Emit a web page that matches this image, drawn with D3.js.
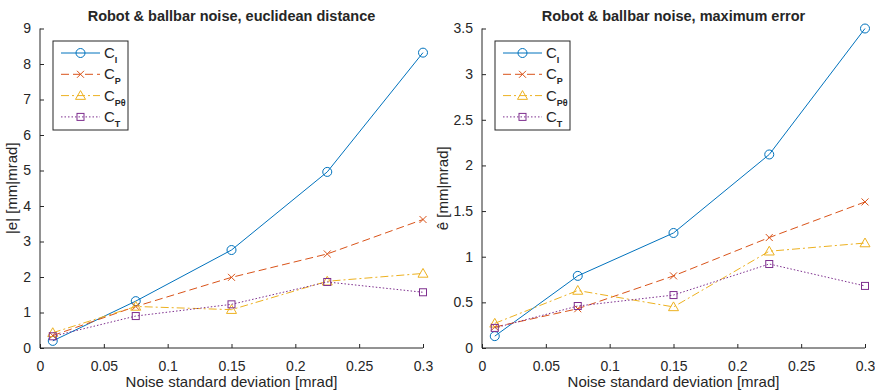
<!DOCTYPE html>
<html>
<head>
<meta charset="utf-8">
<script src="https://cdn.jsdelivr.net/npm/d3@7"></script>
<style>
  body { margin: 0; background: #fff; }
  text { font-family: "Liberation Sans", Arial, sans-serif; fill: #262626; }
</style>
</head>
<body>
<div id="chart"></div>
<script>
const width = 875, height = 390;

const noise = [0.01, 0.075, 0.15, 0.225, 0.3];

// euclidean distance |e|
const distCI  = [0.2, 1.32, 2.76, 4.96, 8.32];
const distCP  = [0.35, 1.17, 1.99, 2.65, 3.62];
const distCPt = [0.43, 1.17, 1.08, 1.88, 2.1];
const distCT  = [0.33, 0.9, 1.23, 1.86, 1.57];

// maximum error ê
const maxCI  = [0.13, 0.79, 1.26, 2.12, 3.5];
const maxCP  = [0.23, 0.43, 0.79, 1.21, 1.6];
const maxCPt = [0.27, 0.63, 0.45, 1.06, 1.15];
const maxCT  = [0.22, 0.46, 0.58, 0.92, 0.68];

const xTicks = [0, 0.05, 0.1, 0.15, 0.2, 0.25, 0.3];
const yTicksLeft = [0, 1, 2, 3, 4, 5, 6, 7, 8, 9];
const yTicksRight = [0, 0.5, 1, 1.5, 2, 2.5, 3, 3.5];

const seriesStyle = [
    {name: "C", sub: "I", color: "#0072BD", dash: null, marker: "circle"},
    {name: "C", sub: "P", color: "#D95319", dash: "8,4", marker: "x"},
    {name: "C", sub: "Pθ", color: "#EDB120", dash: "8,3,2,3", marker: "triangle"},
    {name: "C", sub: "T", color: "#7E2F8E", dash: "1.5,2", marker: "square"}
];

let svg = d3.select("#chart").append("svg")
    .attr("width", width)
    .attr("height", height);

function drawMarker(g, type, x, y, color) {
    if (type === "circle") {
        g.append("circle").attr("cx", x).attr("cy", y).attr("r", 4.5)
            .attr("fill", "none").attr("stroke", color).attr("stroke-width", 1);
    } else if (type === "x") {
        let s = 3.5;
        g.append("path")
            .attr("d", `M${x - s},${y - s}L${x + s},${y + s}M${x - s},${y + s}L${x + s},${y - s}`)
            .attr("stroke", color).attr("stroke-width", 1).attr("fill", "none");
    } else if (type === "triangle") {
        let s = 5;
        g.append("path")
            .attr("d", `M${x},${y - s}L${x + s},${y + s * 0.75}L${x - s},${y + s * 0.75}Z`)
            .attr("stroke", color).attr("stroke-width", 1).attr("fill", "none");
    } else {
        let s = 3.5;
        g.append("rect").attr("x", x - s).attr("y", y - s)
            .attr("width", 2 * s).attr("height", 2 * s)
            .attr("stroke", color).attr("stroke-width", 1).attr("fill", "none");
    }
}

function drawPanel(opts) {
    let x = d3.scaleLinear().domain([0, 0.3]).range([opts.left, opts.right]);
    let y = d3.scaleLinear().domain([0, opts.yMax]).range([348, 28.5]);
    let g = svg.append("g");

    // axes, ticks pointing inward
    let xAxis = g.append("g").attr("transform", "translate(0,348)")
        .call(d3.axisBottom(x).tickValues(xTicks).tickSize(-4).tickPadding(13)
            .tickFormat(d => d3.format("")(+d.toFixed(2))));
    let yAxis = g.append("g").attr("transform", `translate(${opts.left},0)`)
        .call(d3.axisLeft(y).tickValues(opts.yTicks).tickSize(-4).tickPadding(9)
            .tickFormat(d => d3.format("")(+d.toFixed(1))));
    [xAxis, yAxis].forEach(a => {
        a.select(".domain").attr("stroke", "#262626");
        a.selectAll(".tick line").attr("stroke", "#262626");
        a.selectAll(".tick text").style("font-size", "14px")
            .style("font-family", "'Liberation Sans', Arial, sans-serif").attr("fill", "#262626");
    });
    xAxis.select(".domain").attr("d", `M${opts.left},0H${opts.right}`);
    yAxis.select(".domain").attr("d", `M0,348V28.5`);

    // lines and markers
    opts.series.forEach((vals, i) => {
        let st = seriesStyle[i];
        let data = noise.map((n, k) => [n, vals[k]]);
        g.append("path")
            .datum(data)
            .attr("fill", "none")
            .attr("stroke", st.color)
            .attr("stroke-width", 1)
            .attr("stroke-dasharray", st.dash)
            .attr("d", d3.line().x(d => x(d[0])).y(d => y(d[1])));
        data.forEach(d => drawMarker(g, st.marker, x(d[0]), y(d[1]), st.color));
    });

    // title and labels
    g.append("text")
        .attr("x", (opts.left + opts.right) / 2).attr("y", 21)
        .attr("text-anchor", "middle")
        .style("font-size", "14.5px").style("font-weight", "bold")
        .attr("fill", "#000")
        .text(opts.title);
    g.append("text")
        .attr("x", (opts.left + opts.right) / 2).attr("y", 387)
        .attr("text-anchor", "middle")
        .style("font-size", "15px")
        .text("Noise standard deviation [mrad]");
    g.append("text")
        .attr("transform", `translate(${opts.ylabX},${(348 + 28.5) / 2}) rotate(-90)`)
        .attr("text-anchor", "middle")
        .style("font-size", "15px")
        .text(opts.ylabel);

    // legend
    let lx = opts.left + 13, ly = 41;
    let legend = g.append("g");
    legend.append("rect").attr("x", lx).attr("y", ly).attr("width", 75).attr("height", 89)
        .attr("fill", "#fff").attr("stroke", "#262626").attr("stroke-width", 1);
    seriesStyle.forEach((st, i) => {
        let yy = ly + 12 + i * 21.3;
        legend.append("line")
            .attr("x1", lx + 8).attr("x2", lx + 47).attr("y1", yy).attr("y2", yy)
            .attr("stroke", st.color).attr("stroke-width", 1)
            .attr("stroke-dasharray", st.dash);
        drawMarker(legend, st.marker, lx + 27.5, yy, st.color);
        let t = legend.append("text").attr("x", lx + 51).attr("y", yy + 5)
            .style("font-size", "15px").attr("fill", "#000");
        t.append("tspan").text(st.name);
        t.append("tspan").attr("dy", 5).style("font-size", "9px").style("font-weight", "bold")
            .text(st.sub);
    });
}

drawPanel({
    left: 40, right: 423, yMax: 9, yTicks: yTicksLeft,
    series: [distCI, distCP, distCPt, distCT],
    title: "Robot & ballbar noise, euclidean distance",
    ylabel: "|e| [mm|mrad]", ylabX: 17
});

drawPanel({
    left: 482, right: 865, yMax: 3.5, yTicks: yTicksRight,
    series: [maxCI, maxCP, maxCPt, maxCT],
    title: "Robot & ballbar noise, maximum error",
    ylabel: "ê [mm|mrad]", ylabX: 448
});
</script>
</body>
</html>
